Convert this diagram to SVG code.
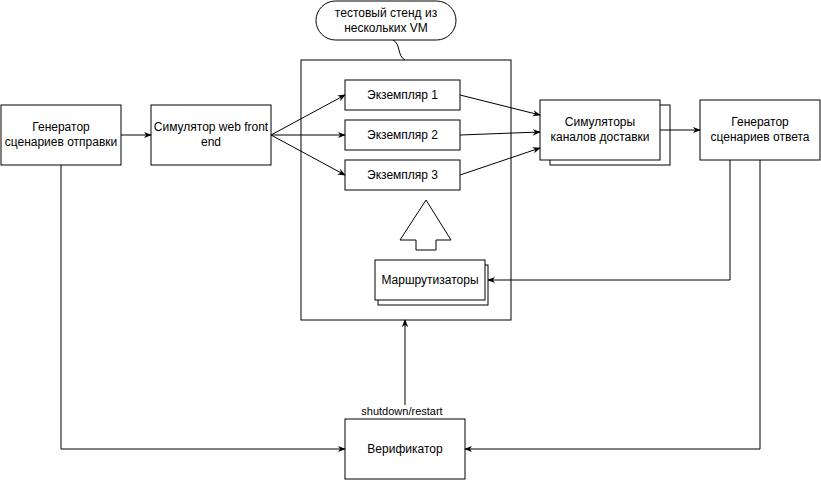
<svg xmlns="http://www.w3.org/2000/svg" width="821" height="480" viewBox="0 0 821 480">
<style>
.box{fill:#fff;stroke:#000;stroke-width:1}
.t{font-family:"Liberation Sans",Arial,sans-serif;font-size:12px;fill:#000;text-anchor:middle}
.c{fill:none;stroke:#000;stroke-width:1}
</style>
<defs>
<marker id="a" viewBox="0 0 10 10" refX="9" refY="5" markerWidth="8" markerHeight="8" markerUnits="userSpaceOnUse" orient="auto">
<path d="M0,1 L10,5 L0,9 L3,5 Z" fill="#000"/>
</marker>
</defs>
<rect width="821" height="480" fill="#fff"/>

<g id="container"><rect class="box" x="301" y="60" width="210" height="260"/></g>

<g id="callout">
<path class="c" d="M393,40 C401,44 397,56 405,60"/>
<rect class="box" x="316" y="1" width="140" height="39" rx="19.5" ry="19.5"/>
<text class="t" x="386" y="17">тестовый стенд из</text>
<text class="t" x="386" y="32">нескольких VM</text>
</g>

<g id="gen-send"><rect class="box" x="1" y="105" width="120" height="60"/>
<text class="t" x="61" y="131">Генератор</text><text class="t" x="61" y="146">сценариев отправки</text></g>

<g id="web-front"><rect class="box" x="151" y="105" width="120" height="60"/>
<text class="t" x="211" y="131">Симулятор web front</text><text class="t" x="211" y="146">end</text></g>

<g id="inst1"><rect class="box" x="345" y="80" width="115" height="30"/><text class="t" x="402.5" y="99">Экземпляр 1</text></g>
<g id="inst2"><rect class="box" x="345" y="120" width="115" height="30"/><text class="t" x="402.5" y="139">Экземпляр 2</text></g>
<g id="inst3"><rect class="box" x="345" y="160" width="115" height="30"/><text class="t" x="402.5" y="179">Экземпляр 3</text></g>

<g id="sim-channels">
<rect class="box" x="550" y="105" width="120" height="60"/>
<rect class="box" x="540" y="100" width="120" height="60"/>
<text class="t" x="600" y="126">Симуляторы</text><text class="t" x="600" y="141">каналов доставки</text></g>

<g id="gen-reply"><rect class="box" x="700" y="100" width="120" height="60"/>
<text class="t" x="760" y="126">Генератор</text><text class="t" x="760" y="141">сценариев ответа</text></g>

<g id="big-arrow"><path class="box" d="M426,200 L451,240 L436,240 L436,250 L416,250 L416,240 L400,240 Z"/></g>

<g id="routers">
<rect class="box" x="378" y="265" width="110" height="40"/>
<rect class="box" x="375" y="260" width="110" height="40"/>
<text class="t" x="430" y="284">Маршрутизаторы</text></g>

<g id="verifier"><rect class="box" x="345" y="419" width="120" height="60"/>
<text class="t" x="405" y="453">Верификатор</text></g>

<g id="connectors">
<path class="c" d="M121,135 L151,135" marker-end="url(#a)"/>
<path class="c" d="M271,135 L345,95" marker-end="url(#a)"/>
<path class="c" d="M271,135 L345,135" marker-end="url(#a)"/>
<path class="c" d="M271,135 L345,175" marker-end="url(#a)"/>
<path class="c" d="M460,95 L540,115" marker-end="url(#a)"/>
<path class="c" d="M460,135 L540,132" marker-end="url(#a)"/>
<path class="c" d="M460,175 L540,148" marker-end="url(#a)"/>
<path class="c" d="M660,130 L700,130" marker-end="url(#a)"/>
<path class="c" d="M730,160 L730,280 L488,280" marker-end="url(#a)"/>
<path class="c" d="M760,160 L760,449 L465,449" marker-end="url(#a)"/>
<path class="c" d="M61,165 L61,449 L345,449" marker-end="url(#a)"/>
<path class="c" d="M405,405 L405,320" marker-end="url(#a)"/>
<text class="t" x="402" y="415" style="font-size:11px">shutdown/restart</text>
</g>
</svg>
